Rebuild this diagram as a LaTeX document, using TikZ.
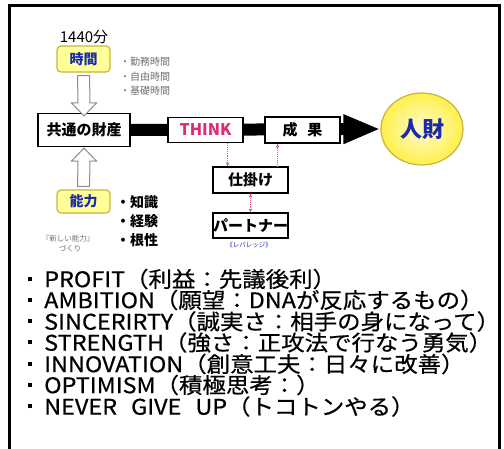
\documentclass[tikz,border=0pt]{standalone}
\usepackage{fontspec}
\setmainfont{Noto Sans CJK JP}
\newfontfamily\listfont[FakeStretch=1.09,FakeBold=0.6]{Noto Sans CJK JP}
\usetikzlibrary{shapes.geometric,arrows.meta,calc}
\definecolor{boxyellow}{HTML}{FFFF99}
\definecolor{boxedge}{HTML}{C8B43C}
\definecolor{jblue}{HTML}{1A2AA8}
\definecolor{thinkpink}{HTML}{E02A78}
\definecolor{dotpink}{HTML}{E0508A}
\definecolor{smallgray}{HTML}{6E6E6E}
\definecolor{arrgray}{HTML}{8C8C8C}
\definecolor{ellyellow}{HTML}{FFF04A}
\definecolor{ellpale}{HTML}{FFFBD0}
\newcommand\sqbullet{\hspace*{7pt}\rule[6.5pt]{4pt}{4pt}\hspace*{12pt}}
\pgfdeclarelayer{bg}
\pgfsetlayers{bg,main}
\tikzset{
  plainbox/.style={draw=black, line width=1.2pt, fill=white, inner sep=0pt, font=\bfseries\fontsize{15}{15}\selectfont},
  yellowbox/.style={draw=boxedge, line width=1.2pt, fill=boxyellow, rounded corners=4pt, inner sep=0pt, text=jblue, font=\bfseries\fontsize{14}{14}\selectfont},
  smalllist/.style={anchor=west, inner sep=0pt, text=smallgray, font=\fontsize{10}{10}\selectfont},
  ablist/.style={anchor=west, inner sep=0pt, font=\bfseries\fontsize{14}{14}\selectfont},
  bigline/.style={anchor=west, inner sep=0pt, font=\listfont\fontsize{21.5}{21.5}\selectfont},
  openarr/.style={draw=arrgray, line width=1pt, fill=white, line join=miter},
  dotarr/.style={draw=dotpink, line width=0.9pt, densely dotted, -{Stealth[length=4pt,width=3.5pt,fill=dotpink]}},
  dotarrboth/.style={draw=dotpink, line width=0.9pt, densely dotted, {Stealth[length=4pt,width=3.5pt,fill=dotpink]}-{Stealth[length=4pt,width=3.5pt,fill=dotpink]}},
}
\begin{document}
\begin{tikzpicture}[x=1pt,y=-1pt]
\path[use as bounding box] (0,0) rectangle (504,448);
% frame
\draw[line width=3pt] (9.5,449) -- (9.5,5) -- (499.5,5) -- (499.5,449);

% nodes
\node[inner sep=0pt, font=\fontsize{15}{15}\selectfont] (t1440) at (84,37) {1440分};
\node[yellowbox, minimum width=53pt, minimum height=26pt] (jikan) at (83.5,59) {時間};
\node[smalllist] (s1) at (120,62) {・勤務時間};
\node[smalllist] (s2) at (120,77) {・自由時間};
\node[smalllist] (s3) at (120,91) {・基礎時間};

\node[plainbox, minimum width=92pt, minimum height=33pt] (kyotsu) at (84,130) {共通の財産};

\node[yellowbox, minimum width=53pt, minimum height=23pt] (noryoku) at (83.5,201.5) {能力};
\node[ablist] (a1) at (116,202) {・知識};
\node[ablist] (a2) at (116,221) {・経験};
\node[ablist] (a3) at (116,240) {・根性};
\node[inner sep=0pt, text=smallgray, font=\fontsize{7.5}{7.5}\selectfont] (atarashii) at (68,239) {『新しい能力』};
\node[inner sep=0pt, text=smallgray, font=\fontsize{7.5}{7.5}\selectfont] (zukuri) at (70,249) {づくり};

\node[plainbox, minimum width=75pt, minimum height=25pt, text=thinkpink, font=\bfseries\fontsize{16}{16}\selectfont] (think) at (205.5,130) {THINK};
\node[plainbox, minimum width=75pt, minimum height=26pt] (seika) at (302.5,130) {成\hspace{10pt}果};
\node[ellipse, draw=boxedge, line width=1.2pt, inner color=ellpale, outer color=ellyellow, minimum width=82pt, minimum height=72pt, inner sep=0pt, text=jblue, font=\bfseries\fontsize{22}{22}\selectfont] (jinzai) at (422,129) {人財};

\node[plainbox, minimum width=75pt, minimum height=26pt] (shikake) at (250.5,180) {仕掛け};
\node[plainbox, minimum width=75pt, minimum height=25pt] (partner) at (250.5,225.5) {パートナー};
\node[inner sep=0pt, text=jblue, font=\fontsize{6.5}{6.5}\selectfont] (leverage) at (249,245) {《レバレッジ》};

% thick bar behind boxes
\begin{pgfonlayer}{bg}
\draw[line width=12pt, -{Triangle[length=37pt,width=27pt]}] (kyotsu.east) -- (jinzai.west);
\end{pgfonlayer}

% open arrows
\coordinate (d0) at ($(jikan.south)+(0,3)$);
\coordinate (d1) at ($(kyotsu.north)+(0,3)$);
\draw[openarr] ($(d0)+(-6,0)$) -- ($(d1)+(-6,-13)$) -- ($(d1)+(-12.5,-13)$) -- (d1) -- ($(d1)+(12.5,-13)$) -- ($(d1)+(6,-13)$) -- ($(d0)+(6,0)$) -- cycle;
\coordinate (u0) at ($(noryoku.north)+(0,-3)$);
\coordinate (u1) at ($(kyotsu.south)+(0,1)$);
\draw[openarr] ($(u0)+(-6,0)$) -- ($(u1)+(-6,13)$) -- ($(u1)+(-12.5,13)$) -- (u1) -- ($(u1)+(12.5,13)$) -- ($(u1)+(6,13)$) -- ($(u0)+(6,0)$) -- cycle;

% dotted connectors
\draw[dotarr] ([xshift=-16pt]think.south east) -- ([xshift=-16pt]think.south east |- shikake.north);
\draw[dotarr] ([xshift=-11pt]shikake.north east) -- ([xshift=-11pt]shikake.north east |- seika.south);
\draw[dotarrboth] (shikake.south) -- (partner.north);

% list
\node[bigline] (l1) at (21,279) {\sqbullet PROFIT（利益：先議後利）};
\node[bigline] (l2) at (21,300) {\sqbullet AMBITION（願望：DNAが反応するもの）};
\node[bigline] (l3) at (21,321.5) {\sqbullet SINCERIRTY（誠実さ：相手の身になって）};
\node[bigline] (l4) at (21,342.5) {\sqbullet STRENGTH（強さ：正攻法で行なう勇気）};
\node[bigline] (l5) at (21,364) {\sqbullet INNOVATION（創意工夫：日々に改善）};
\node[bigline] (l6) at (21,385) {\sqbullet OPTIMISM（積極思考：）};
\node[bigline] (l7) at (21,406.5) {\sqbullet NEVER\hspace{14pt}GIVE\hspace{14pt}UP（トコトンやる）};
\end{tikzpicture}
\end{document}
